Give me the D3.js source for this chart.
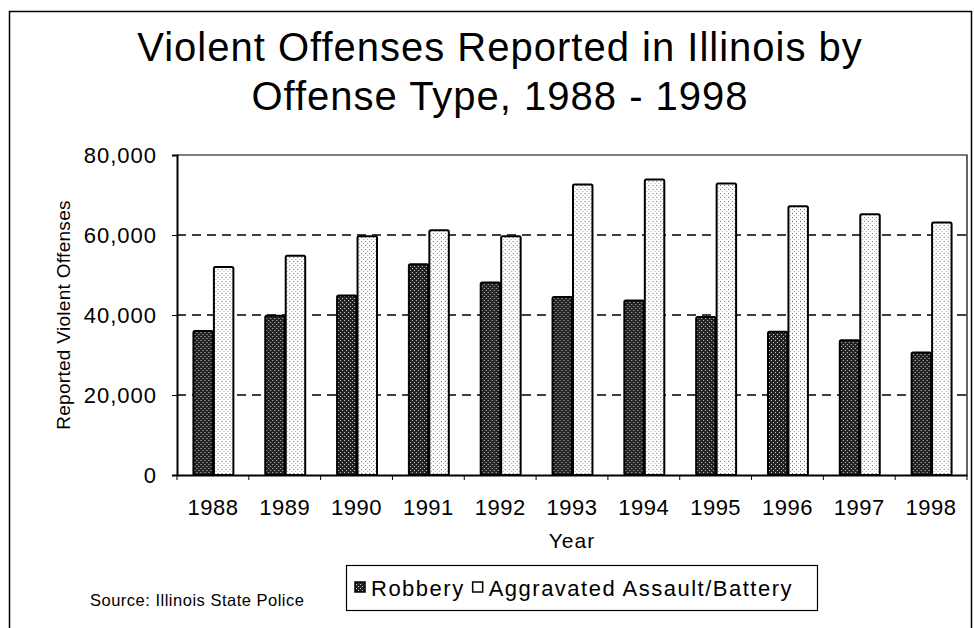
<!DOCTYPE html>
<html>
<head>
<meta charset="utf-8">
<script src="https://cdn.jsdelivr.net/npm/d3@7"></script>
<style>
  body { margin: 0; background: #fff; }
  svg { display: block; font-family: "Liberation Sans", Arial, sans-serif; }
</style>
</head>
<body>
<script>
var years = ['1988', '1989', '1990', '1991', '1992', '1993', '1994', '1995', '1996', '1997', '1998'];
var robbery = [36000, 39800, 44900, 52700, 48100, 44500, 43600, 39500, 35800, 33700, 30600];
var assault = [52000, 54800, 59700, 61200, 59700, 72600, 73900, 72900, 67200, 65200, 63100];
var seriesNames = ['Robbery', 'Aggravated Assault/Battery'];
var yTicks = [0, 20000, 40000, 60000, 80000];

var width = 974;
var height = 628;
var plotLeft = 177, plotRight = 967, plotTop = 155, plotBottom = 475;

var svg = d3.select('body').append('svg')
  .attr('width', width)
  .attr('height', height);

// stipple fills, roughly like the scanned halftone
var defs = svg.append('defs');
var darkPat = defs.append('pattern')
  .attr('id', 'dark')
  .attr('patternUnits', 'userSpaceOnUse')
  .attr('width', 4).attr('height', 4);
darkPat.append('rect').attr('width', 4).attr('height', 4).attr('fill', '#222');
darkPat.append('rect').attr('x', 0).attr('y', 0).attr('width', 1).attr('height', 1).attr('fill', '#d0d0d0');
darkPat.append('rect').attr('x', 2).attr('y', 2).attr('width', 1).attr('height', 1).attr('fill', '#d0d0d0');

var lightPat = defs.append('pattern')
  .attr('id', 'light')
  .attr('patternUnits', 'userSpaceOnUse')
  .attr('width', 4).attr('height', 4);
lightPat.append('rect').attr('width', 4).attr('height', 4).attr('fill', '#fff');
lightPat.append('rect').attr('x', 1).attr('y', 1).attr('width', 1).attr('height', 1).attr('fill', '#666');
lightPat.append('rect').attr('x', 3).attr('y', 3).attr('width', 1).attr('height', 1).attr('fill', '#aaa');

// outer frame
svg.append('rect')
  .attr('x', 9.5).attr('y', 11.5)
  .attr('width', 962).attr('height', 640)
  .attr('fill', 'none')
  .attr('stroke', '#000')
  .attr('stroke-width', 1.5);

// title
var title = svg.append('text')
  .attr('text-anchor', 'middle')
  .attr('font-size', 40)
  .attr('letter-spacing', 1)
  .attr('fill', '#000');
title.append('tspan').attr('x', 500).attr('y', 61).text('Violent Offenses Reported in Illinois by');
title.append('tspan').attr('x', 500).attr('y', 110).text('Offense Type, 1988 - 1998');

var x0 = d3.scaleBand()
  .domain(years)
  .range([plotLeft, plotRight])
  .paddingInner(0.43)
  .paddingOuter(0.215);

var x1 = d3.scaleBand()
  .domain(seriesNames)
  .range([0, x0.bandwidth()]);

var y = d3.scaleLinear()
  .domain([0, 80000])
  .range([plotBottom, plotTop]);

// gridlines
svg.append('g').selectAll('line')
  .data(yTicks.filter(function(d) { return d > 0 && d < 80000; }))
  .enter().append('line')
    .attr('x1', plotLeft).attr('x2', plotRight)
    .attr('y1', function(d) { return y(d); })
    .attr('y2', function(d) { return y(d); })
    .attr('stroke', '#000')
    .attr('stroke-width', 1.5)
    .attr('stroke-dasharray', '9,6');

// plot frame (top + right)
svg.append('path')
  .attr('d', 'M' + plotLeft + ',' + plotTop + 'H' + plotRight + 'V' + plotBottom)
  .attr('fill', 'none')
  .attr('stroke', '#000')
  .attr('stroke-width', 1.2);

// bars
var rows = years.map(function(yr, i) {
  return { year: yr, values: [
    { key: seriesNames[0], value: robbery[i] },
    { key: seriesNames[1], value: assault[i] }
  ] };
});

var groups = svg.append('g').selectAll('g')
  .data(rows)
  .enter().append('g')
    .attr('transform', function(d) { return 'translate(' + x0(d.year) + ',0)'; });

groups.selectAll('rect')
  .data(function(d) { return d.values; })
  .enter().append('rect')
    .attr('x', function(d) { return x1(d.key) + 1; })
    .attr('y', function(d) { return y(d.value); })
    .attr('width', x1.bandwidth() - 1)
    .attr('height', function(d) { return plotBottom - y(d.value); })
    .attr('rx', 1.5)
    .attr('fill', function(d) { return d.key === seriesNames[0] ? 'url(#dark)' : 'url(#light)'; })
    .attr('stroke', '#000')
    .attr('stroke-width', 2);

// axes
var yAxis = d3.axisLeft(y)
  .tickValues(yTicks)
  .tickSize(5)
  .tickFormat(d3.format(','));

var yg = svg.append('g')
  .attr('transform', 'translate(' + plotLeft + ',0)')
  .call(yAxis);
yg.select('.domain').attr('stroke-width', 2);
yg.selectAll('text')
  .attr('font-size', 22)
  .attr('font-family', '"Liberation Sans", Arial, sans-serif')
  .attr('letter-spacing', 1)
  .attr('x', -20)
  .attr('fill', '#000');

var xAxis = d3.axisBottom(x0).tickSize(0).tickSizeOuter(0);
var xg = svg.append('g')
  .attr('transform', 'translate(0,' + plotBottom + ')')
  .call(xAxis);
xg.select('.domain').attr('stroke-width', 2);
xg.selectAll('text')
  .attr('font-size', 22)
  .attr('font-family', '"Liberation Sans", Arial, sans-serif')
  .attr('y', 24)
  .attr('letter-spacing', 0.5)
  .attr('fill', '#000');

// category separators on x axis
var step = x0.step();
xg.selectAll('.sep')
  .data(d3.range(years.length + 1))
  .enter().append('line')
    .attr('class', 'sep')
    .attr('x1', function(i) { return plotLeft + i * step; })
    .attr('x2', function(i) { return plotLeft + i * step; })
    .attr('y1', 0).attr('y2', 5)
    .attr('stroke', '#000');

// axis titles
svg.append('text')
  .attr('transform', 'translate(70,' + ((plotTop + plotBottom) / 2) + ') rotate(-90)')
  .attr('text-anchor', 'middle')
  .attr('font-size', 19)
  .attr('letter-spacing', 0.3)
  .text('Reported Violent Offenses');

svg.append('text')
  .attr('x', (plotLeft + plotRight) / 2)
  .attr('y', 548)
  .attr('text-anchor', 'middle')
  .attr('font-size', 21)
  .attr('letter-spacing', 1)
  .text('Year');

svg.append('text')
  .attr('x', 90)
  .attr('y', 606)
  .attr('font-size', 16.5)
  .attr('letter-spacing', 0.5)
  .text('Source: Illinois State Police');

// legend
var legend = svg.append('g');
legend.append('rect')
  .attr('x', 346.5).attr('y', 565.5)
  .attr('width', 471).attr('height', 45)
  .attr('fill', '#fff')
  .attr('stroke', '#000')
  .attr('stroke-width', 1.2);

var lx = 355;
seriesNames.forEach(function(name, i) {
  legend.append('rect')
    .attr('x', lx).attr('y', 582)
    .attr('width', 10).attr('height', 10)
    .attr('fill', i === 0 ? 'url(#dark)' : '#fff')
    .attr('stroke', '#000')
    .attr('stroke-width', 1.5);
  var t = legend.append('text')
    .attr('x', lx + 16)
    .attr('y', 596)
    .attr('font-size', 22)
    .attr('letter-spacing', 1.5)
    .text(name);
  lx += 16 + t.node().getComputedTextLength() + 8;
});
</script>
</body>
</html>
